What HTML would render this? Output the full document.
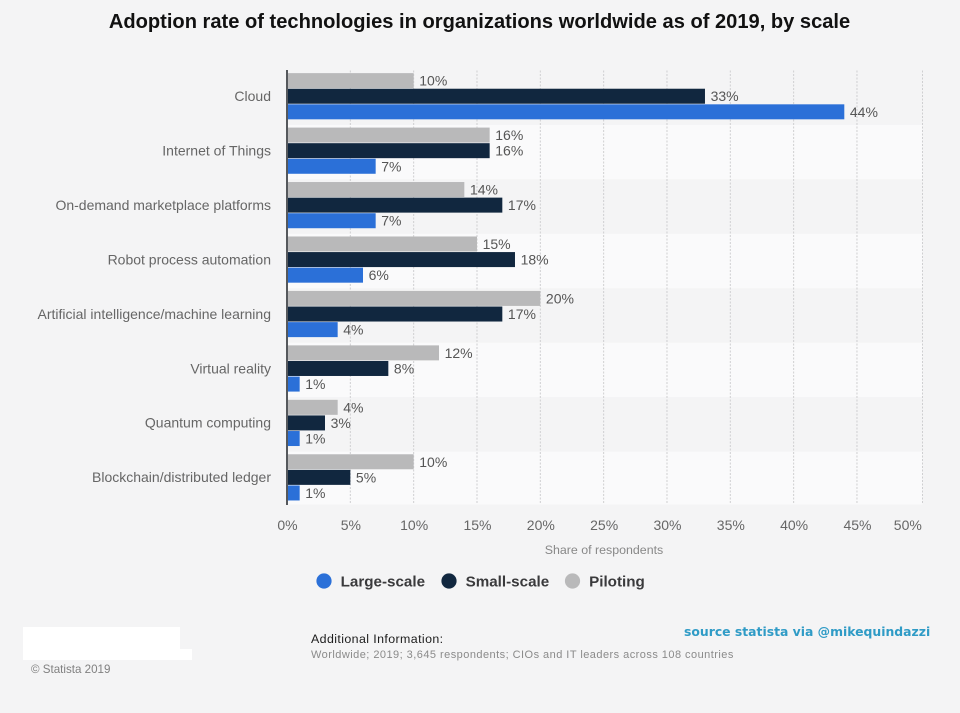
<!DOCTYPE html>
<html lang="en">
<head>
<meta charset="utf-8">
<title>Adoption rate of technologies</title>
<style>
html,body{margin:0;padding:0;background:#f4f4f5;}
#stage{position:relative;width:960px;height:713px;overflow:hidden;background:#f4f4f5;font-family:"Liberation Sans",sans-serif;}
svg{position:absolute;left:0;top:0;}
svg text{font-family:"Liberation Sans",sans-serif;}
</style>
</head>
<body>
<div id="stage">
<svg id="chart" width="960" height="713" viewBox="0 0 960 713" xmlns="http://www.w3.org/2000/svg">
  <text x="479.5" y="28" text-anchor="middle" font-size="20.1" font-weight="700" fill="#111">Adoption rate of technologies in organizations worldwide as of 2019, by scale</text>
  <g id="bands"></g>
  <g id="grid"></g>
  <g id="bars"></g>
  <g id="values"></g>
  <g id="cats"></g>
  <g id="ticks"></g>
  <line x1="287" x2="287" y1="70" y2="505" stroke="#55585c" stroke-width="2"></line>
  <text x="604" y="554" text-anchor="middle" font-size="12.4" fill="#888">Share of respondents</text>
  <g id="legend"></g>
  <rect x="23" y="627" width="157" height="33" fill="#fff"></rect>
  <rect x="23" y="649" width="169" height="11" fill="#fff"></rect>
  <text x="31" y="673" font-size="11.6" fill="#808080">© Statista 2019</text>
  <text x="311" y="643" font-size="12.4" letter-spacing="0.4" fill="#1c1c1c">Additional Information:</text>
  <text x="311" y="658" font-size="11" letter-spacing="0.46" fill="#8a8a8a">Worldwide; 2019; 3,645 respondents; CIOs and IT leaders across 108 countries</text>
  <text x="684" y="636" font-family="DejaVu Sans" style="font-family:'DejaVu Sans',sans-serif" font-size="12.4" font-weight="700" fill="#2f9bc6">source statista via @mikequindazzi</text>
</svg>
</div>
<script>
const categories = ["Cloud","Internet of Things","On-demand marketplace platforms","Robot process automation","Artificial intelligence/machine learning","Virtual reality","Quantum computing","Blockchain/distributed ledger"];
const piloting = [10,16,14,15,20,12,4,10];
const smallScale = [33,16,17,18,17,8,3,5];
const largeScale = [44,7,7,6,4,1,1,1];
const xTicks = [0,5,10,15,20,25,30,35,40,45,50];
const legendLabels = ["Large-scale","Small-scale","Piloting"];

const NS = "http://www.w3.org/2000/svg";
const plotLeft = 287, plotRight = 920.3, bandRight = 922.5, plotTop = 70.5, plotBottom = 504.5, xMax = 50;
const bandH = 54.45;
const barH = 15, barStep = 15.6;
const colors = {piloting:"#b9b9ba", small:"#11273f", large:"#2b70d8"};
function xScale(v){ return plotLeft + (v / xMax) * (plotRight - plotLeft); }
function yCenter(i){ return plotTop + bandH * i + bandH / 2 - 1.5; }
function make(tag, attrs, parent, text){
  const el = document.createElementNS(NS, tag);
  for (const k in attrs) el.setAttribute(k, attrs[k]);
  if (text !== undefined) el.textContent = text;
  parent.appendChild(el);
  return el;
}
const gBands = document.getElementById("bands");
const gGrid = document.getElementById("grid");
const gBars = document.getElementById("bars");
const gValues = document.getElementById("values");
const gCats = document.getElementById("cats");
const gTicks = document.getElementById("ticks");
const gLegend = document.getElementById("legend");

categories.forEach(function(cat, i){
  const top = plotTop + bandH * i;
  const band = make("rect", {x:plotLeft, y:top, width:bandRight - plotLeft, height:Math.min(bandH, plotBottom - top), fill: i % 2 ? "#fafafb" : "#f4f4f5"}, gBands);
  
  
  const label = make("text", {x:271, y:yCenter(i) + 4.8, "text-anchor":"end", "font-size":14, fill:"#666"}, gCats, cat);
  
  
});

xTicks.forEach(function(t){
  if (t > 0) {
    const gx = t === xMax ? bandRight : xScale(t);
    const line = make("line", {x1:gx, x2:gx, y1:plotTop, y2:plotBottom, stroke:"#cfcfd1", "stroke-width":1, "stroke-dasharray":"2 1.5"}, gGrid);
    
    
  }
  const anchor = t === xMax ? xScale(t) - 12.5 : xScale(t) + 0.5;
  const tick = make("text", {x:anchor, y:530, "text-anchor":"middle", "font-size":14, fill:"#666"}, gTicks, t + "%");
  
  
});

function drawSeries(values, offset, color, seriesName){
  values.forEach(function(v, i){
    const y = yCenter(i) + offset - barH / 2;
    const bar = make("rect", {x:plotLeft, y:y, width:xScale(v) - plotLeft, height:barH, fill:color}, gBars);
    
    
    const val = make("text", {x:xScale(v) + 5.6, y:y + barH / 2 + 5, "font-size":14, fill:"#555"}, gValues, v + "%");
    
    
  });
}
drawSeries(piloting, -barStep, colors.piloting, "piloting");
drawSeries(smallScale, 0, colors.small, "small-scale");
drawSeries(largeScale, barStep, colors.large, "large-scale");

const legendDots = [324, 449, 572.5];
const legendColors = [colors.large, colors.small, colors.piloting];
legendLabels.forEach(function(name, i){
  const dot = make("circle", {cx:legendDots[i], cy:581, r:7.6, fill:legendColors[i]}, gLegend);
  
  
  const lab = make("text", {x:legendDots[i] + 16.6, y:586.3, "font-size":15.2, "font-weight":700, fill:"#3a3a3c"}, gLegend, name);
  
  
});
</script>
</body>
</html>
